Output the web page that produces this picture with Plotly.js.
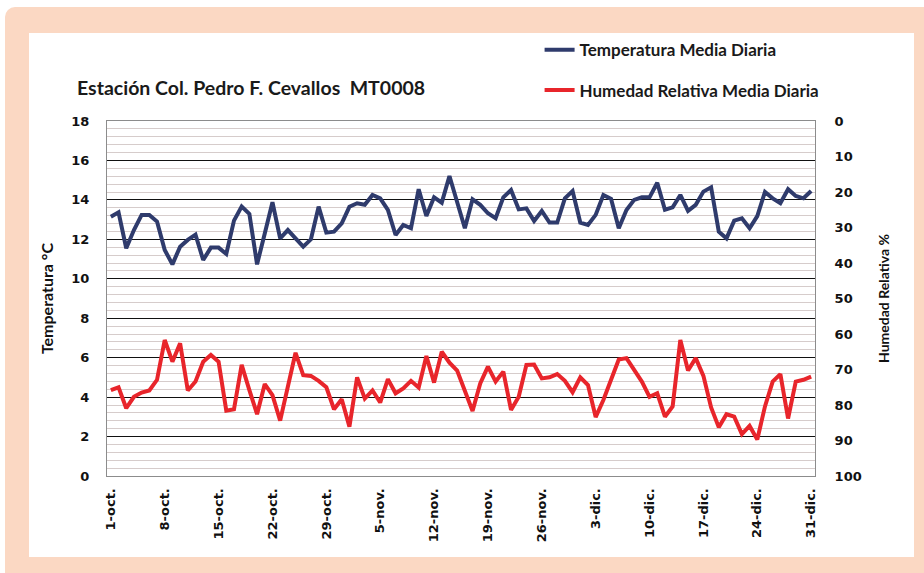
<!DOCTYPE html>
<html>
<head>
<meta charset="utf-8">
<script src="https://cdn.plot.ly/plotly-3.0.1.min.js"></script>
<style>
  body { margin: 0; background: #ffffff; }
  #frame {
    position: absolute; left: 5px; top: 7px; width: 930px; height: 580px;
    background: #fbd8c3; border-radius: 10px;
  }
  #panel {
    position: absolute; left: 29px; top: 33px; width: 885px; height: 524px;
    background: #ffffff;
  }
  #chart { position: absolute; left: 0; top: 0; width: 924px; height: 573px; }
</style>
</head>
<body>
<div id="frame"></div>
<div id="panel"></div>
<div id="chart"></div>
<script>
// Daily means, 1-oct to 31-dic
const months = [['oct.', 31], ['nov.', 30], ['dic.', 31]];

const temperatura = [
    13.15, 13.37, 11.55, 12.47, 13.24, 13.24, 12.90, 11.46, 10.73, 11.63,
    11.97, 12.24, 10.95, 11.58, 11.58, 11.26, 12.95, 13.66, 13.29, 10.73,
    12.30, 13.88, 12.05, 12.47, 12.05, 11.63, 12.00, 13.66, 12.34, 12.39,
    12.81, 13.65, 13.83, 13.75, 14.25, 14.08, 13.49, 12.22, 12.73, 12.56,
    14.54, 13.18, 14.13, 13.86, 15.21, 13.91, 12.56, 14.03, 13.75, 13.32,
    13.07, 14.13, 14.50, 13.52, 13.57, 12.93, 13.44, 12.85, 12.85, 14.08,
    14.45, 12.85, 12.73, 13.24, 14.25, 14.05, 12.56, 13.49, 14.00, 14.13,
    14.13, 14.87, 13.50, 13.62, 14.25, 13.44, 13.75, 14.42, 14.64, 12.39,
    12.05, 12.95, 13.07, 12.56, 13.18, 14.40, 14.08, 13.83, 14.54, 14.20,
    14.08, 14.45
];

const humedad = [
    75.8, 75.0, 80.9, 77.7, 76.5, 75.9, 72.9, 61.7, 67.8, 62.6,
    75.9, 73.4, 67.8, 65.9, 67.8, 81.6, 81.2, 68.7, 75.8, 82.6,
    74.1, 77.2, 84.4, 74.7, 65.3, 71.6, 71.8, 73.2, 75.0, 81.2,
    78.4, 86.1, 72.2, 78.2, 75.9, 79.3, 72.7, 76.7, 75.3, 73.2,
    75.1, 66.2, 73.7, 65.0, 68.1, 70.3, 75.8, 81.7, 73.9, 69.2,
    73.4, 70.6, 81.4, 77.7, 68.7, 68.6, 72.5, 72.2, 71.3, 73.2,
    76.4, 72.2, 74.4, 83.4, 78.6, 72.8, 67.2, 66.8, 70.1, 73.4,
    77.7, 76.7, 83.3, 80.4, 61.7, 70.3, 66.8, 71.8, 80.7, 86.3,
    82.6, 83.3, 88.2, 85.9, 89.7, 80.4, 73.4, 71.3, 83.8, 73.4,
    72.9, 72.0
];

// Category labels like "1-oct."
const dias = [];
months.forEach(([name, n]) => {
    for (let d = 1; d <= n; d++) dias.push(d + '-' + name);
});

const tickFont = { family: 'DejaVu Sans', size: 13, color: '#111111', weight: 'bold' };

const data = [
    {
        type: 'scatter',
        mode: 'lines',
        x: dias,
        y: temperatura,
        name: 'Temperatura Media Diaria',
        legendgroup: 't',
        line: { color: '#2f3b6c', width: 4 }
    },
    {
        type: 'scatter',
        mode: 'lines',
        x: dias,
        y: humedad,
        yaxis: 'y2',
        name: 'Humedad Relativa Media Diaria',
        legendgroup: 'h',
        line: { color: '#e8252b', width: 4 }
    }
];

const layout = {
    width: 924,
    height: 573,
    paper_bgcolor: 'rgba(0,0,0,0)',
    plot_bgcolor: '#ffffff',
    margin: { l: 107, r: 109, t: 121, b: 97, pad: 0 },
    title: {
        text: 'Estación Col. Pedro F. Cevallos  MT0008',
        font: { family: 'Lato', size: 19.5, color: '#1a1a1a', weight: 'bold' },
        xref: 'container', x: 77 / 924, xanchor: 'left',
        yref: 'container', y: 1 - 88 / 573, yanchor: 'middle'
    },
    showlegend: true,
    legend: {
        x: 0.611, xanchor: 'left',
        y: 1.25, yanchor: 'top',
        bgcolor: 'rgba(0,0,0,0)',
        font: { family: 'Lato', size: 17, color: '#1a1a1a', weight: 'bold' },
        itemwidth: 30,
        traceorder: 'grouped',
        tracegroupgap: 15
    },
    xaxis: {
        type: 'category',
        tickmode: 'linear', tick0: 0, dtick: 7,
        tickangle: -90,
        tickfont: tickFont,
        ticks: 'outside', ticklen: 6, tickcolor: 'rgba(0,0,0,0)',
        showgrid: false,
        showline: true, linecolor: '#8c8c8c', linewidth: 1, mirror: true,
        range: [-0.5, 91.5]
    },
    yaxis: {
        range: [0, 18],
        dtick: 2,
        tickfont: tickFont,
        ticks: 'outside', ticklen: 14, tickcolor: 'rgba(0,0,0,0)',
        showgrid: true, gridcolor: '#111111', gridwidth: 1,
        minor: { dtick: 0.4, showgrid: true, gridcolor: '#d6cccb', gridwidth: 1 },
        zeroline: false,
        showline: true, linecolor: '#8c8c8c', linewidth: 1, mirror: true,
        title: {
            text: 'Temperatura °C',
            font: { family: 'Lato', size: 16, color: '#111111', weight: 'bold' },
            standoff: 13
        }
    },
    yaxis2: {
        overlaying: 'y',
        side: 'right',
        range: [100, 0],
        dtick: 10,
        tickfont: tickFont,
        ticks: 'outside', ticklen: 16, tickcolor: 'rgba(0,0,0,0)',
        showgrid: false,
        zeroline: false,
        title: {
            text: 'Humedad Relativa %',
            font: { family: 'Lato', size: 14, color: '#111111', weight: 'bold' },
            standoff: 18
        }
    }
};

Plotly.newPlot('chart', data, layout, { displayModeBar: false, responsive: false });
</script>
</body>
</html>
